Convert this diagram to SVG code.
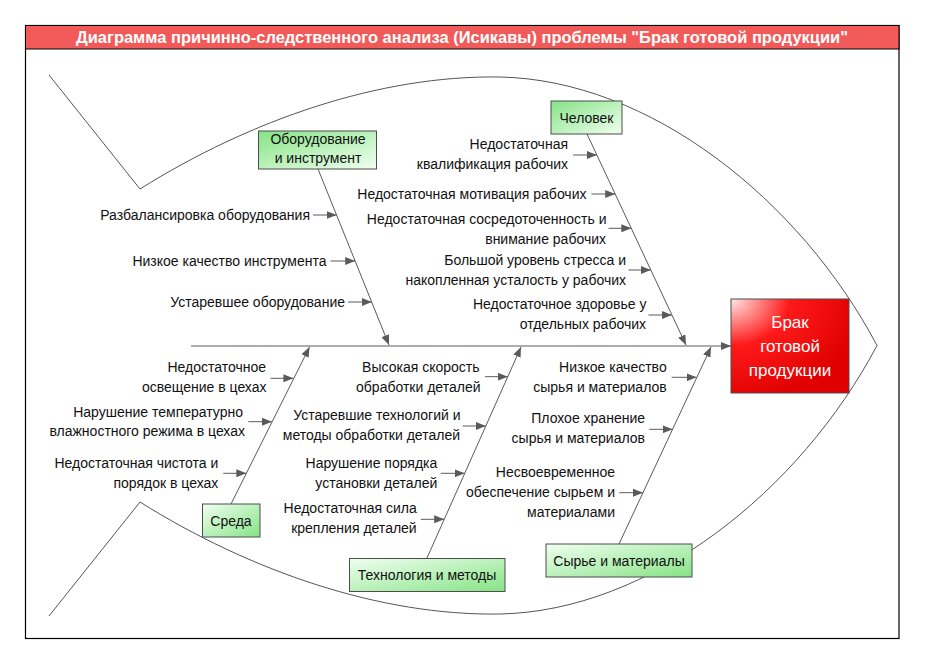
<svg xmlns="http://www.w3.org/2000/svg" width="925" height="665" viewBox="0 0 925 665">
<style>
.t{font-family:"Liberation Sans",Arial,sans-serif;font-size:14px;fill:#111;text-anchor:end}
.c{font-family:"Liberation Sans",Arial,sans-serif;font-size:14px;fill:#111;text-anchor:middle}
.bone{stroke:#5a5a5a;stroke-width:1;fill:none;marker-end:url(#ah)}
.sub{stroke:#5a5a5a;stroke-width:1;fill:none;marker-end:url(#ah)}
.box{stroke:#4d4d4d;stroke-width:1}
.fish{stroke:#555;stroke-width:1;fill:none}
</style>
<defs>
<marker id="ah" markerUnits="userSpaceOnUse" markerWidth="11" markerHeight="8" refX="10" refY="4" orient="auto">
<path d="M0,0 L10,4 L0,8 Z" fill="#5a5a5a"/>
</marker>
<linearGradient id="gTop" x1="0" y1="0" x2="1" y2="1">
<stop offset="0" stop-color="#86e386"/>
<stop offset="1" stop-color="#f0fff0"/>
</linearGradient>
<linearGradient id="gBot" x1="0" y1="0" x2="1" y2="1">
<stop offset="0" stop-color="#f0fff0"/>
<stop offset="1" stop-color="#86e386"/>
</linearGradient>
<radialGradient id="gRed" cx="0" cy="0" r="1.1">
<stop offset="0" stop-color="#ffe8e8"/>
<stop offset="0.45" stop-color="#ff1a1a"/>
<stop offset="1" stop-color="#e00000"/>
</radialGradient>
</defs>
<rect x="0" y="0" width="925" height="665" fill="#fff"/>
<g id="frame">
<rect x="25.5" y="25.5" width="873.5" height="613" fill="#fff" stroke="#000" stroke-width="1.2"/>
</g>
<g id="title">
<rect x="25.5" y="25.5" width="873.5" height="23.5" fill="#f25a5a" stroke="#000" stroke-width="1"/>
<text x="462" y="43" textLength="772" lengthAdjust="spacingAndGlyphs" style="font-family:'Liberation Sans',Arial,sans-serif;font-size:16.5px;font-weight:bold;fill:#fff;text-anchor:middle">Диаграмма причинно-следственного анализа (Исикавы) проблемы "Брак готовой продукции"</text>
</g>
<g id="fish-outline">
<path class="fish" d="M49,75 L140,189 C250,120 380,75 500,77 C650,80 800,200 877,345.5 C800,491 650,611 500,614 C380,616 250,571 140,502 L49,616"/>
</g>
<g id="connectors">
<line class="bone" x1="191" y1="346" x2="731" y2="346"/>
<line class="bone" x1="318" y1="169" x2="389" y2="345"/>
<line class="bone" x1="587" y1="134" x2="686" y2="345"/>
<line class="bone" x1="231" y1="504" x2="309.5" y2="347"/>
<line class="bone" x1="427" y1="558" x2="521" y2="347"/>
<line class="bone" x1="619" y1="544" x2="711" y2="347"/>
<line class="sub" x1="313" y1="215" x2="336.6" y2="215"/>
<line class="sub" x1="330.5" y1="261" x2="355.2" y2="261"/>
<line class="sub" x1="348" y1="302" x2="371.8" y2="302"/>
<line class="sub" x1="573" y1="155" x2="596.9" y2="155"/>
<line class="sub" x1="591.5" y1="194" x2="615.2" y2="194"/>
<line class="sub" x1="608.5" y1="228.3" x2="631.3" y2="228.3"/>
<line class="sub" x1="628.5" y1="270" x2="650.8" y2="270"/>
<line class="sub" x1="648.5" y1="315" x2="671.9" y2="315"/>
<line class="sub" x1="270.5" y1="378.3" x2="293.4" y2="378.3"/>
<line class="sub" x1="248.3" y1="421.7" x2="271.9" y2="421.7"/>
<line class="sub" x1="223.3" y1="473.3" x2="246.3" y2="473.3"/>
<line class="sub" x1="485" y1="376.7" x2="507.8" y2="376.7"/>
<line class="sub" x1="462.7" y1="426" x2="485.8" y2="426"/>
<line class="sub" x1="440.7" y1="473.3" x2="464.7" y2="473.3"/>
<line class="sub" x1="420.7" y1="519.3" x2="444.2" y2="519.3"/>
<line class="sub" x1="671.7" y1="377.3" x2="696.6" y2="377.3"/>
<line class="sub" x1="649.3" y1="429.3" x2="672.6" y2="429.3"/>
<line class="sub" x1="619.3" y1="492.7" x2="643" y2="492.7"/>
</g>
<g id="effect">
<rect class="box" x="731" y="299" width="118" height="94" fill="url(#gRed)"/>
<text x="790" y="328" style="font-family:'Liberation Sans',Arial,sans-serif;font-size:17px;fill:#fff;text-anchor:middle">Брак</text>
<text x="790" y="352" style="font-family:'Liberation Sans',Arial,sans-serif;font-size:17px;fill:#fff;text-anchor:middle">готовой</text>
<text x="790" y="376" style="font-family:'Liberation Sans',Arial,sans-serif;font-size:17px;fill:#fff;text-anchor:middle">продукции</text>
</g>
<g id="cat-equipment">
<rect class="box" x="258.5" y="131" width="118" height="38" fill="url(#gTop)"/>
<text class="c" x="318" y="144">Оборудование</text>
<text class="c" x="318" y="163">и инструмент</text>
</g>
<g id="cat-human">
<rect class="box" x="551" y="101" width="71" height="33" fill="url(#gTop)"/>
<text class="c" x="586.5" y="122.5">Человек</text>
</g>
<g id="cat-environment">
<rect class="box" x="202.5" y="504" width="57.5" height="33" fill="url(#gBot)"/>
<text class="c" x="231" y="525.5">Среда</text>
</g>
<g id="cat-technology">
<rect class="box" x="349.5" y="558.5" width="155.5" height="33" fill="url(#gBot)"/>
<text class="c" x="427" y="580">Технология и методы</text>
</g>
<g id="cat-materials">
<rect class="box" x="546" y="544" width="146" height="33" fill="url(#gBot)"/>
<text class="c" x="619" y="566">Сырье и материалы</text>
</g>
<g id="cause-e1"><text class="t" x="310" y="220">Разбалансировка оборудования</text></g>
<g id="cause-e2"><text class="t" x="326.5" y="265.5">Низкое качество инструмента</text></g>
<g id="cause-e3"><text class="t" x="345" y="306.5">Устаревшее оборудование</text></g>
<g id="cause-h1"><text class="t" x="568" y="149">Недостаточная</text><text class="t" x="568" y="169">квалификация рабочих</text></g>
<g id="cause-h2"><text class="t" x="586.5" y="199">Недостаточная мотивация рабочих</text></g>
<g id="cause-h3"><text class="t" x="606.5" y="224">Недостаточная сосредоточенность и</text><text class="t" x="606" y="244">внимание рабочих</text></g>
<g id="cause-h4"><text class="t" x="626" y="265">Большой уровень стресса и</text><text class="t" x="626" y="285">накопленная усталость у рабочих</text></g>
<g id="cause-h5"><text class="t" x="646.5" y="308.5">Недостаточное здоровье у</text><text class="t" x="646" y="329">отдельных рабочих</text></g>
<g id="cause-s1"><text class="t" x="266" y="371.7">Недостаточное</text><text class="t" x="266.5" y="392.3">освещение в цехах</text></g>
<g id="cause-s2"><text class="t" x="243" y="416.7">Нарушение температурно</text><text class="t" x="245" y="435.7">влажностного режима в цехах</text></g>
<g id="cause-s3"><text class="t" x="218.3" y="468.3">Недостаточная чистота и</text><text class="t" x="218.3" y="488.3">порядок в цехах</text></g>
<g id="cause-t1"><text class="t" x="479.5" y="371.7">Высокая скорость</text><text class="t" x="480.5" y="391.7">обработки деталей</text></g>
<g id="cause-t2"><text class="t" x="460.5" y="420">Устаревшие технологий и</text><text class="t" x="460" y="440">методы обработки деталей</text></g>
<g id="cause-t3"><text class="t" x="437.3" y="467.7">Нарушение порядка</text><text class="t" x="437.3" y="487.7">установки деталей</text></g>
<g id="cause-t4"><text class="t" x="416.7" y="513.3">Недостаточная сила</text><text class="t" x="416.7" y="533.3">крепления деталей</text></g>
<g id="cause-m1"><text class="t" x="666.7" y="371.7">Низкое качество</text><text class="t" x="666.7" y="391.7">сырья и материалов</text></g>
<g id="cause-m2"><text class="t" x="645" y="423.3">Плохое хранение</text><text class="t" x="645" y="443.3">сырья и материалов</text></g>
<g id="cause-m3"><text class="t" x="615" y="476.7">Несвоевременное</text><text class="t" x="615" y="496.7">обеспечение сырьем и</text><text class="t" x="615" y="516.7">материалами</text></g>
</svg>
